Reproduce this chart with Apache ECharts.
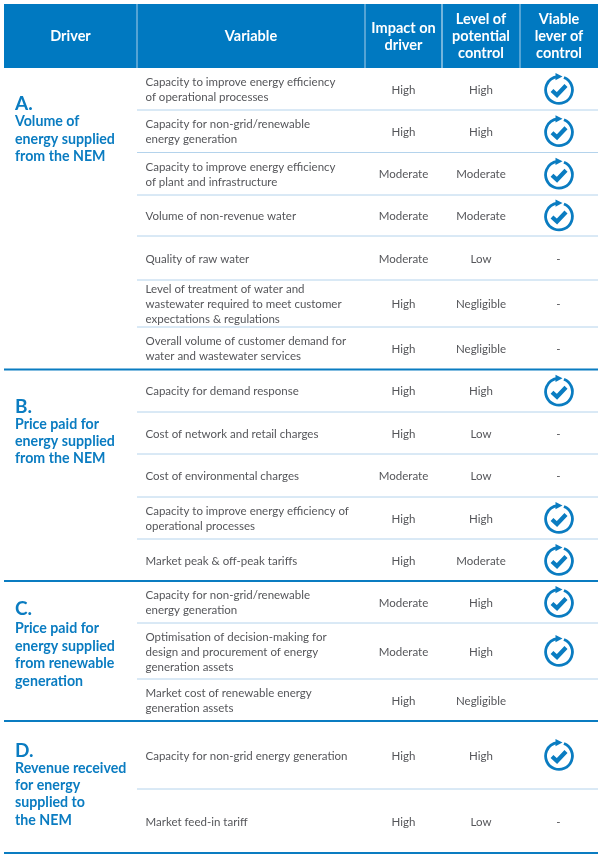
<!DOCTYPE html>
<html><head><meta charset="utf-8">
<style>html,body{margin:0;padding:0;background:#fff}#c{width:601px;height:857px}</style>
<script src="https://cdn.jsdelivr.net/npm/echarts@6/dist/echarts.min.js"></script>
</head><body><div id="c"></div>
<script>
// ---- content ----
const headers = ['Driver', 'Variable', 'Impact on\ndriver', 'Level of\npotential\ncontrol', 'Viable\nlever of\ncontrol'];
const driverLetters = ['A.', 'B.', 'C.', 'D.'];
const driverNames = [
  'Volume of\nenergy supplied\nfrom the NEM',
  'Price paid for\nenergy supplied\nfrom the NEM',
  'Price paid for\nenergy supplied\nfrom renewable\ngeneration',
  'Revenue received\nfor energy\nsupplied to\nthe NEM'
];
const variables = [
  'Capacity to improve energy efficiency\nof operational processes',
  'Capacity for non-grid/renewable\nenergy generation',
  'Capacity to improve energy efficiency\nof plant and infrastructure',
  'Volume of non-revenue water',
  'Quality of raw water',
  'Level of treatment of water and\nwastewater required to meet customer\nexpectations & regulations',
  'Overall volume of customer demand for\nwater and wastewater services',
  'Capacity for demand response',
  'Cost of network and retail charges',
  'Cost of environmental charges',
  'Capacity to improve energy efficiency of\noperational processes',
  'Market peak & off-peak tariffs',
  'Capacity for non-grid/renewable\nenergy generation',
  'Optimisation of decision-making for\ndesign and procurement of energy\ngeneration assets',
  'Market cost of renewable energy\ngeneration assets',
  'Capacity for non-grid energy generation',
  'Market feed-in tariff'
];
const impact = ['High','High','Moderate','Moderate','Moderate','High','High','High','High','Moderate','High','High','Moderate','Moderate','High','High','High'];
const control = ['High','High','Moderate','Moderate','Low','Negligible','Negligible','High','Low','Low','High','Moderate','High','High','Negligible','High','Low'];
const lever = ['yes','yes','yes','yes','-','-','-','yes','-','-','yes','yes','yes','yes','','yes','-'];

// ---- layout (page grid, not data) ----
const colEdges = [4, 137, 365, 442, 520, 598];
const headerTop = 4, headerBottom = 68;
const rowEdges = [68,110,152.5,195,236,280,327,369.5,412,454,497,539,581,623,679,721,789,853];
const sectionEnds = [6, 11, 14, 16];
const driverTop = [102.5, 405.5, 607.5, 749.5];
const driverGap = [18.3, 17.5, 20.3, 17.5];

const BLUE = '#0a7cc1', HEAD = '#0079c1', TXT = '#55565a', RULE = '#b4d3ec';
const FF = 'Lato, "Open Sans", sans-serif';

function renderTable(params, api) {
  const P = (x, y) => api.coord([x, y]);
  const kids = [];
  const text = (s, x, y, o) => {
    const p = P(x, y + 1);
    kids.push({ type: 'text', silent: true, style: Object.assign({
      text: s, x: p[0], y: p[1], fill: TXT, font: '11.5px ' + FF,
      align: 'left', verticalAlign: 'middle', lineHeight: 15
    }, o || {}) });
  };
  const rect = (x0, y0, x1, y1, fill) => {
    const a = P(x0, y0), b = P(x1, y1);
    kids.push({ type: 'rect', shape: { x: a[0], y: a[1], width: b[0] - a[0], height: b[1] - a[1] }, style: { fill } });
  };
  const line = (x0, y0, x1, y1, stroke, w) => {
    const a = P(x0, y0), b = P(x1, y1);
    kids.push({ type: 'line', shape: { x1: a[0], y1: a[1], x2: b[0], y2: b[1] }, style: { stroke, lineWidth: w } });
  };
  const icon = (cx, cy) => {
    const c = P(cx, cy), R = 13.4;
    kids.push({ type: 'arc', shape: { cx: c[0], cy: c[1], r: R, startAngle: -Math.PI * 0.38, endAngle: -Math.PI * 0.52, clockwise: true },
      style: { stroke: BLUE, fill: null, lineWidth: 2.8 } });
    kids.push({ type: 'polygon', shape: { points: [[c[0] - 3.5, c[1] - 17], [c[0] + 3.5, c[1] - 13.4], [c[0] - 3.5, c[1] - 9.8]] }, style: { fill: BLUE } });
    kids.push({ type: 'polyline', shape: { points: [[c[0] - 7, c[1] + 0.5], [c[0] - 2, c[1] + 5], [c[0] + 7, c[1] - 4.5]] },
      style: { stroke: BLUE, fill: null, lineWidth: 4.2 } });
  };

  // header
  rect(colEdges[0], headerTop, colEdges[5], headerBottom, HEAD);
  colEdges.slice(1, 5).forEach((x, i) => line(x, headerTop, x, headerBottom, i === 2 ? '#e6f1f8' : '#a8cfe9', 1));
  headers.forEach((h, i) => {
    text(h, (colEdges[i] + colEdges[i + 1]) / 2, 35.5, {
      fill: '#fff', font: 'bold 14.5px ' + FF, align: 'center', lineHeight: 17
    });
  });

  // rows
  variables.forEach((v, i) => {
    const cy = (rowEdges[i] + rowEdges[i + 1]) / 2;
    text(v, 145.5, cy);
    text(impact[i], (colEdges[2] + colEdges[3]) / 2, cy, { align: 'center' });
    text(control[i], (colEdges[3] + colEdges[4]) / 2, cy, { align: 'center' });
    if (lever[i] === 'yes') icon(559, cy + 1);
    else if (lever[i]) text(lever[i], 558.5, cy, { align: 'center' });
    const end = sectionEnds.indexOf(i) >= 0;
    if (!end) line(colEdges[1], rowEdges[i + 1], colEdges[5], rowEdges[i + 1], RULE, 1);
  });
  sectionEnds.forEach(i => line(colEdges[0], rowEdges[i + 1], colEdges[5], rowEdges[i + 1], BLUE, 2));

  // drivers
  driverLetters.forEach((l, i) => {
    text(l, 15, driverTop[i], { fill: BLUE, font: 'bold 19px ' + FF });
    const parts = driverNames[i].split('\n');
    const h = 17.4;
    text(driverNames[i], 15, driverTop[i] + driverGap[i] + (parts.length - 1) * h / 2, {
      fill: BLUE, font: 'bold 14.2px ' + FF, lineHeight: h
    });
  });
  return { type: 'group', children: kids };
}

const chart = echarts.init(document.getElementById('c'), null, { renderer: 'canvas' });
chart.setOption({
  animation: false,
  backgroundColor: '#fff',
  grid: { left: 0, right: 0, top: 0, bottom: 0 },
  xAxis: { type: 'value', min: 0, max: 601, show: false },
  yAxis: { type: 'value', min: 0, max: 857, inverse: true, show: false },
  series: [{ type: 'custom', coordinateSystem: 'cartesian2d', clip: false, silent: true, renderItem: renderTable, data: [[0, 0]] }]
});
</script></body></html>
